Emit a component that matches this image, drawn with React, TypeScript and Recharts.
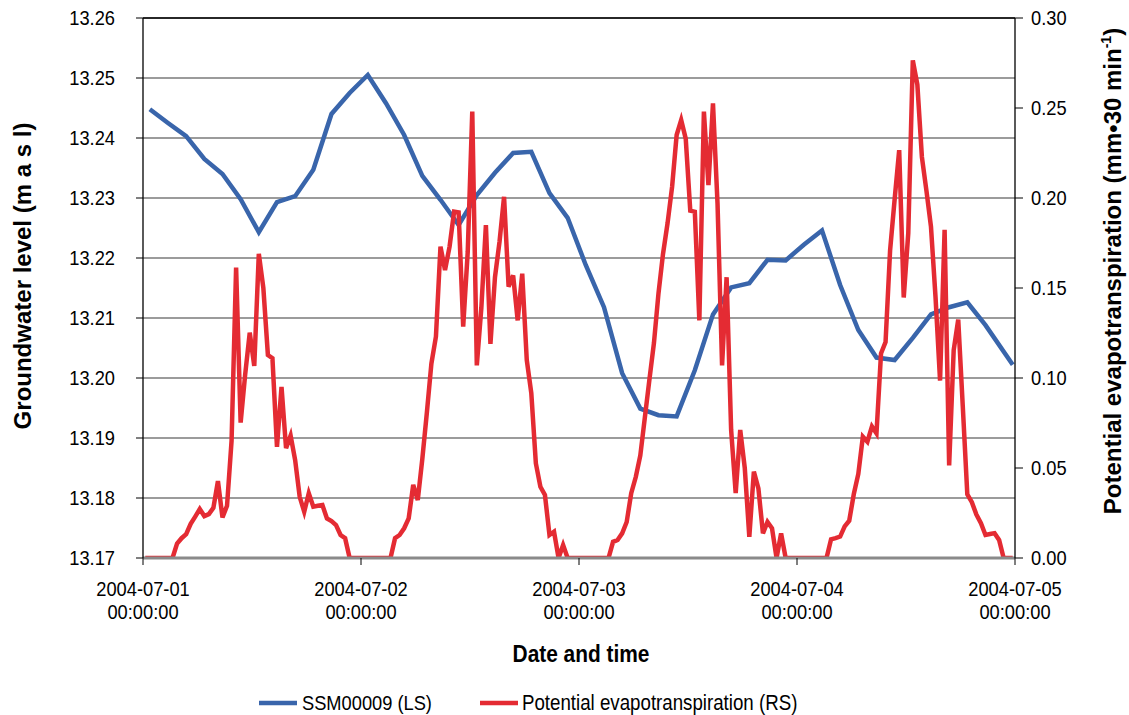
import React from 'react';
import { LineChart, Line, XAxis, YAxis, CartesianGrid, ReferenceLine, Legend, Label } from 'recharts';

// hours since 2004-07-01 00:00
const dayTicks = [0, 24, 48, 72, 96];
const dayLabels = ['2004-07-01', '2004-07-02', '2004-07-03', '2004-07-04', '2004-07-05'];
const levelTicks = [13.17, 13.18, 13.19, 13.2, 13.21, 13.22, 13.23, 13.24, 13.25, 13.26];
const petTicks = [0, 0.05, 0.1, 0.15, 0.2, 0.25, 0.3];

// groundwater level SSM00009 (m a s l), roughly every 2 h
const levelHours = [
  0.75, 2.75, 4.75, 6.75, 8.75, 10.75, 12.75, 14.75, 16.75, 18.75,
  20.75, 22.75, 24.75, 26.75, 28.75, 30.75, 32.75, 34.75, 36.75, 38.75,
  40.75, 42.75, 44.75, 46.75, 48.75, 50.75, 52.75, 54.75, 56.75, 58.75,
  60.75, 62.75, 64.75, 66.75, 68.75, 70.75, 72.75, 74.75, 76.75, 78.75,
  80.75, 82.75, 84.75, 86.75, 88.75, 90.75, 92.75, 95.75,
];
const levelValues = [
  13.2448, 13.2425, 13.2403, 13.2365, 13.234, 13.2298, 13.2243, 13.2293, 13.2303, 13.2347,
  13.244, 13.2475, 13.2505, 13.2458, 13.2405, 13.2337, 13.2297, 13.2255, 13.2305, 13.2342,
  13.2375, 13.2377, 13.2308, 13.2267, 13.2188, 13.2118, 13.2008, 13.1949, 13.1938, 13.1936,
  13.2013, 13.2106, 13.2151, 13.2158, 13.2197, 13.2196, 13.2222, 13.2246, 13.2155, 13.208,
  13.2034, 13.203, 13.2067, 13.2106, 13.2118, 13.2126, 13.2088, 13.2022,
];

// potential evapotranspiration (mm per 30 min), one value per half hour
const petStartHour = 0.25;
const petStepHours = 0.5;
const petValues = [
  0, 0, 0, 0, 0, 0, 0, 0.008, 0.011, 0.0132,
  0.019, 0.023, 0.0272, 0.0233, 0.0244, 0.0279, 0.0427, 0.0225, 0.029, 0.065,
  0.1613, 0.0752, 0.102, 0.1252, 0.1067, 0.169, 0.15, 0.1128, 0.111, 0.0618,
  0.095, 0.061, 0.068, 0.0544, 0.034, 0.0257, 0.036, 0.0285, 0.029, 0.0294,
  0.022, 0.0205, 0.0183, 0.0128, 0.011, 0, 0, 0, 0, 0,
  0, 0, 0, 0, 0, 0.011, 0.0128, 0.0165, 0.022, 0.0406,
  0.0322, 0.055, 0.0807, 0.108, 0.123, 0.173, 0.16, 0.173, 0.1924, 0.192,
  0.1285, 0.17, 0.248, 0.107, 0.139, 0.185, 0.119, 0.156, 0.1757, 0.2007,
  0.1507, 0.157, 0.132, 0.158, 0.11, 0.0915, 0.0526, 0.0396, 0.035, 0.0128,
  0.0146, 0, 0.0072, 0, 0, 0, 0, 0, 0, 0,
  0, 0, 0, 0.009, 0.01, 0.0137, 0.02, 0.036, 0.045, 0.057,
  0.078, 0.099, 0.1194, 0.147, 0.169, 0.186, 0.2063, 0.235, 0.2433, 0.233,
  0.193, 0.1924, 0.132, 0.248, 0.2072, 0.2526, 0.197, 0.107, 0.156, 0.0711,
  0.036, 0.0711, 0.05, 0.0118, 0.048, 0.0387, 0.0137, 0.02, 0.0165, 0,
  0.0137, 0, 0, 0, 0, 0, 0, 0, 0, 0,
  0, 0.0104, 0.011, 0.0119, 0.0176, 0.0207, 0.0354, 0.0467, 0.0674, 0.0646,
  0.0731, 0.0693, 0.1136, 0.12, 0.171, 0.1993, 0.2266, 0.1447, 0.1804, 0.2765,
  0.263, 0.2228, 0.204, 0.184, 0.145, 0.0985, 0.1823, 0.0514, 0.1154, 0.1324,
  0.0844, 0.0354, 0.031, 0.0241, 0.0194, 0.0128, 0.0133, 0.0138, 0.01, 0,
  0, 0,
];

const levelData = levelHours.map((h, i) => ({ h, v: levelValues[i] }));
const petData = petValues.map((v, i) => ({ h: petStartHour + i * petStepHours, v }));

const BLUE = '#3965ab';
const RED = '#e42b33';
const FONT = '"Liberation Sans", Arial, Helvetica, sans-serif';
const SX = 0.87; // text in the original is a bit narrow

const DayTick = ({ x, y, payload }: any) => {
  const idx = dayTicks.indexOf(payload.value);
  return (
    <g transform={`translate(${x},${y}) scale(${SX},1)`}>
      <text textAnchor="middle" y={29} fontSize={21} fontFamily={FONT} fill="#000">{dayLabels[idx]}</text>
      <text textAnchor="middle" y={52} fontSize={21} fontFamily={FONT} fill="#000">00:00:00</text>
    </g>
  );
};

const ValueTick = ({ x, y, payload, anchor }: any) => (
  <text
    transform={`translate(${x},${y}) scale(${SX},1)`}
    textAnchor={anchor}
    dy={7}
    fontSize={21}
    fontFamily={FONT}
    fill="#000"
  >
    {payload.value.toFixed(2)}
  </text>
);

const LegendBox = () => (
  <svg width={1129} height={57} style={{ display: 'block' }}>
    <line x1={259} x2={297} y1={45} y2={45} stroke={BLUE} strokeWidth={4.5} />
    <text transform={`translate(302,52) scale(${SX},1)`} fontSize={21} fontFamily={FONT} fill="#000">
      SSM00009 (LS)
    </text>
    <line x1={480} x2={518} y1={45} y2={45} stroke={RED} strokeWidth={4.5} />
    <text transform={`translate(522,52) scale(${SX},1)`} fontSize={21.5} fontFamily={FONT} fill="#000">
      Potential evapotranspiration (RS)
    </text>
  </svg>
);

export default function App() {
  return (
    <div style={{ position: 'absolute', left: 0, top: 0, background: '#fff' }}>
      <LineChart width={1129} height={715} margin={{ top: 18, right: 0, bottom: 0, left: 0 }}>
        <CartesianGrid
          yAxisId="left"
          vertical={false}
          stroke="#7a7a7a"
          strokeWidth={1.6}
        />
        <XAxis
          dataKey="h"
          type="number"
          domain={[0, 96]}
          ticks={dayTicks}
          allowDataOverflow
          height={100}
          tickSize={7}
          tickMargin={2}
          axisLine={{ stroke: '#8a8a8a', strokeWidth: 3 }}
          tickLine={{ stroke: '#000', strokeWidth: 1 }}
          tick={<DayTick />}
        >
          <Label
            content={() => (
              <text
                transform={`translate(581,662) scale(${SX},1)`}
                textAnchor="middle"
                fontSize={24}
                fontWeight="bold"
                fontFamily={FONT}
                fill="#000"
              >
                Date and time
              </text>
            )}
          />
        </XAxis>
        <YAxis
          yAxisId="left"
          domain={[13.17, 13.26]}
          ticks={levelTicks}
          allowDataOverflow
          width={143}
          tickSize={7}
          tickMargin={21}
          axisLine={{ stroke: '#000', strokeWidth: 1.3 }}
          tickLine={{ stroke: '#000', strokeWidth: 1 }}
          tick={<ValueTick anchor="end" />}
        >
          <Label
            content={() => (
              <text
                transform="translate(31,276) rotate(-90)"
                textAnchor="middle"
                fontSize={24}
                fontWeight="bold"
                fontFamily={FONT}
                fill="#000"
              >
                Groundwater level (m a s l)
              </text>
            )}
          />
        </YAxis>
        <YAxis
          yAxisId="right"
          orientation="right"
          domain={[0, 0.3]}
          ticks={petTicks}
          allowDataOverflow
          width={114}
          tickSize={8}
          tickMargin={8}
          axisLine={{ stroke: '#000', strokeWidth: 1.3 }}
          tickLine={{ stroke: '#000', strokeWidth: 1 }}
          tick={<ValueTick anchor="start" />}
        >
          <Label
            content={() => (
              <text
                transform="translate(1121,271) rotate(-90)"
                textAnchor="middle"
                fontSize={24}
                fontWeight="bold"
                fontFamily={FONT}
                fill="#000"
              >
                Potential evapotranspiration (mm•30 min
                <tspan dy={-10} fontSize={14}>-1</tspan>
                <tspan dy={10}>)</tspan>
              </text>
            )}
          />
        </YAxis>
        <ReferenceLine yAxisId="left" y={13.26} stroke="#000" strokeWidth={1.5} />
        <Legend verticalAlign="bottom" height={57} content={<LegendBox />} wrapperStyle={{ left: 0, width: 1129 }} />
        <Line
          data={levelData}
          dataKey="v"
          yAxisId="left"
          stroke={BLUE}
          strokeWidth={4.5}
          dot={false}
          activeDot={false}
          isAnimationActive={false}
          name="SSM00009 (LS)"
        />
        <Line
          data={petData}
          dataKey="v"
          yAxisId="right"
          stroke={RED}
          strokeWidth={4.5}
          dot={false}
          activeDot={false}
          isAnimationActive={false}
          name="Potential evapotranspiration (RS)"
        />
      </LineChart>
    </div>
  );
}
